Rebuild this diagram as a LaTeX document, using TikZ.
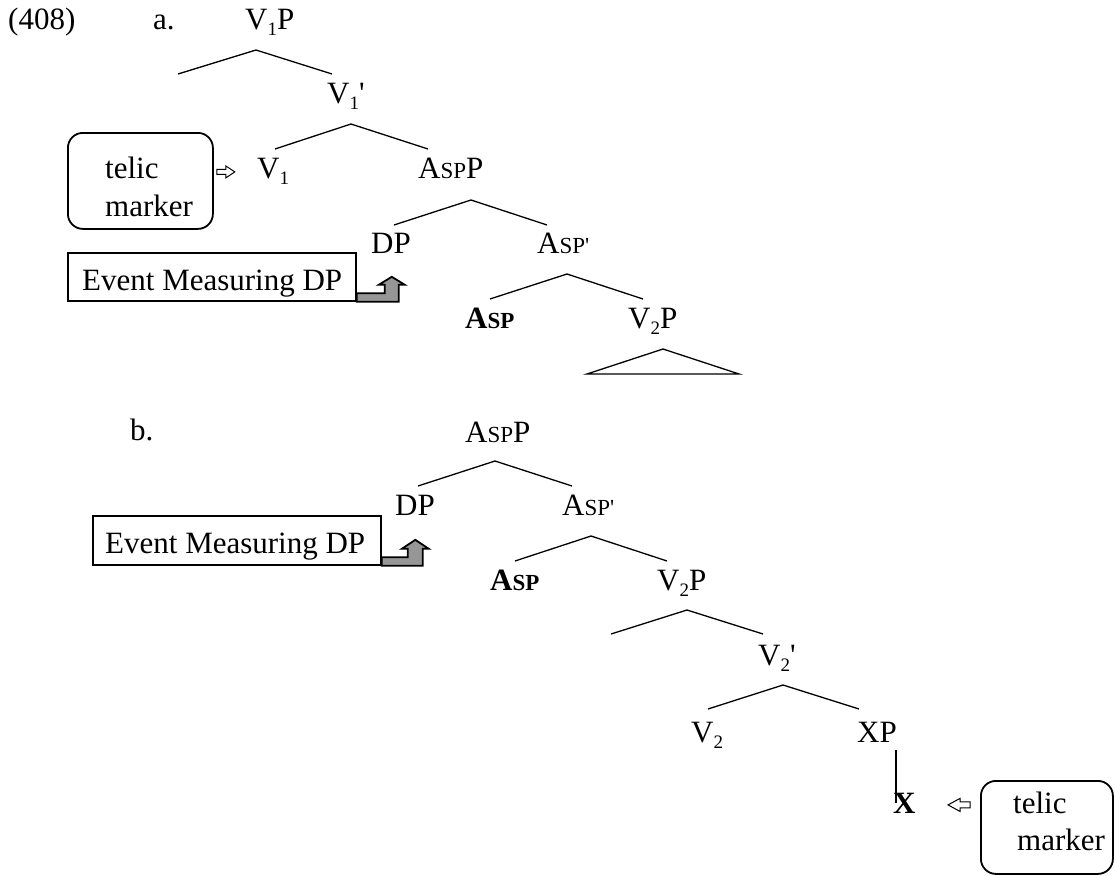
\documentclass[tikz,border=0pt]{standalone}
\usepackage{fontspec}
\setmainfont{Liberation Serif}
\definecolor{arrgray}{RGB}{150,150,150}
\newcommand{\smcap}[1]{{\fontsize{23}{23}\selectfont #1}}
\newcommand{\subx}[1]{\raisebox{-6pt}{\fontsize{19}{19}\selectfont #1}}
\newcommand{\prm}{\textquotesingle}
\begin{document}
\begin{tikzpicture}[x=1pt,y=-1pt,
  lbl/.style={inner sep=0pt, anchor=base west, font=\fontsize{31}{37}\selectfont},
  branch/.style={line width=1.3pt},
  boxline/.style={line width=1.8pt},
  frame/.style={draw, boxline, inner sep=0pt, anchor=north west},
  rbox/.style={frame, rounded corners=15pt},
  grayarrow/.style={boxline, fill=arrgray, line join=miter},
  whitearrow/.style={line width=1pt, fill=white, line join=miter}]
\useasboundingbox (0,0) rectangle (1115,875);

% ---------- tree (a) ----------
\node[lbl] (ex) at (8,30) {(408)};
\node[lbl] (la) at (153,30) {a.};
\node[lbl] (v1p) at (245,30) {V\subx{1}P};
\node[lbl] (v1bar) at (327,103) {V\subx{1}\prm};
\node[lbl] (v1) at (257,178) {V\subx{1}};
\node[lbl] (asppA) at (418,178) {A\smcap{SP}P};
\node[lbl] (dpA) at (371,253) {DP};
\node[lbl] (aspbarA) at (537,253) {A\smcap{SP\prm}};
\node[lbl] (aspA) at (465,328) {\bfseries A\smcap{SP}};
\node[lbl] (v2pA) at (628,328) {V\subx{2}P};

\coordinate (a1) at (256,50);  \coordinate (a1l) at (178,74);  \coordinate (a1r) at (332,74);
\coordinate (a2) at (351,124); \coordinate (a2l) at (275,149); \coordinate (a2r) at (428,149);
\coordinate (a3) at (471,200); \coordinate (a3l) at (394,225); \coordinate (a3r) at (547,225);
\coordinate (a4) at (567,274); \coordinate (a4l) at (490,299); \coordinate (a4r) at (643,299);
\coordinate (a5) at (663,349); \coordinate (a5l) at (587,374); \coordinate (a5r) at (739,374);
\draw[branch] (a1l) -- (a1) -- (a1r);
\draw[branch] (a2l) -- (a2) -- (a2r);
\draw[branch] (a3l) -- (a3) -- (a3r);
\draw[branch] (a4l) -- (a4) -- (a4r);
\draw[branch] (a5l) -- (a5) -- (a5r) -- cycle;

% telic marker box (a)
\node[rbox, minimum width=145pt, minimum height=96pt] (telA) at (67,132) {};
\node[lbl] (telA1) at (105,178) {telic};
\node[lbl] (telA2) at (105,216) {marker};
\draw[whitearrow] ([shift={(3,-11.5)}]telA.east) -- ++(9,0) -- ++(0,-3.5) -- ++(9,6)
  -- ++(-9,6) -- ++(0,-3.5) -- ++(-9,0) -- cycle;

% event measuring box (a)
\node[frame, minimum width=288pt, minimum height=48pt] (evA) at (67,252) {};
\node[lbl] (evAt) at (82,290) {Event Measuring DP};
\draw[grayarrow] ([shift={(0,-8.5)}]evA.south east) -- ++(28,0) -- ++(0,-8.5) -- ++(-6,0)
  -- ++(13,-8) -- ++(13,8) -- ++(-6,0) -- ++(0,17) -- (evA.south east) -- cycle;

% ---------- tree (b) ----------
\node[lbl] (lb) at (130,440) {b.};
\node[lbl] (asppB) at (465,442) {A\smcap{SP}P};
\node[lbl] (dpB) at (395,515) {DP};
\node[lbl] (aspbarB) at (562,515) {A\smcap{SP\prm}};
\node[lbl] (aspB) at (490,590) {\bfseries A\smcap{SP}};
\node[lbl] (v2pB) at (657,590) {V\subx{2}P};
\node[lbl] (v2bar) at (758,665) {V\subx{2}\prm};
\node[lbl] (v2) at (691,742) {V\subx{2}};
\node[lbl] (xp) at (857,742) {XP};
\node[lbl] (xb) at (893,813) {\bfseries X};

\coordinate (b1) at (495,461); \coordinate (b1l) at (418,486); \coordinate (b1r) at (572,486);
\coordinate (b2) at (591,536); \coordinate (b2l) at (515,561); \coordinate (b2r) at (667,561);
\coordinate (b3) at (687,610); \coordinate (b3l) at (611,634); \coordinate (b3r) at (763,634);
\coordinate (b4) at (783,685); \coordinate (b4l) at (708,709); \coordinate (b4r) at (859,709);
\coordinate (b5) at (896,750); \coordinate (b5b) at (896,803);
\draw[branch] (b1l) -- (b1) -- (b1r);
\draw[branch] (b2l) -- (b2) -- (b2r);
\draw[branch] (b3l) -- (b3) -- (b3r);
\draw[branch] (b4l) -- (b4) -- (b4r);
\draw[branch] (b5) -- (b5b);

% event measuring box (b)
\node[frame, minimum width=288pt, minimum height=49pt] (evB) at (92,515) {};
\node[lbl] (evBt) at (105,553) {Event Measuring DP};
\draw[grayarrow] ([shift={(0,-8.5)}]evB.south east) -- ++(26,0) -- ++(0,-8.5) -- ++(-6,0)
  -- ++(13.5,-9) -- ++(13.5,9) -- ++(-6,0) -- ++(0,17) -- (evB.south east) -- cycle;

% telic marker box (b)
\node[rbox, minimum width=132pt, minimum height=93pt] (telB) at (980,780) {};
\node[lbl] (telB1) at (1013,813) {telic};
\node[lbl] (telB2) at (1017,850) {marker};
\draw[whitearrow] ([shift={(-10,-25.5)}]telB.west) -- ++(-10,0) -- ++(0,-3.5) -- ++(-12,6.5)
  -- ++(12,6.5) -- ++(0,-3.5) -- ++(10,0) -- cycle;
\end{tikzpicture}
\end{document}
